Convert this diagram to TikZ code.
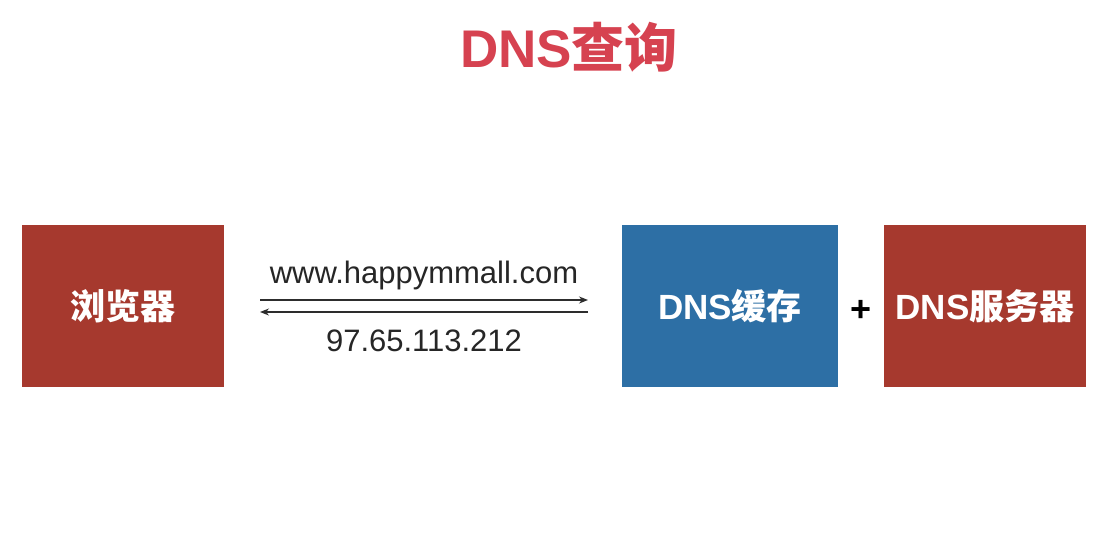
\documentclass[tikz,border=0pt]{standalone}
\usepackage{fontspec}
\setmainfont{Liberation Sans}
\newfontfamily\cjk{Noto Sans CJK SC}
\usetikzlibrary{arrows.meta}
\definecolor{boxred}{RGB}{166,57,46}
\definecolor{boxblue}{RGB}{45,111,165}
\definecolor{titlered}{RGB}{214,66,80}
\definecolor{arrowgray}{RGB}{45,45,45}
\tikzset{
  box/.style={draw=none, minimum height=162pt, inner sep=0pt, text=white, font=\fontsize{35}{40}\selectfont\bfseries},
  link/.style={draw=arrowgray, line width=1.3pt, -{Stealth[length=9pt,width=7pt]}},
  lbl/.style={font=\fontsize{31}{36}\selectfont, text=black!85, inner sep=0pt}
}
\begin{document}
\begin{tikzpicture}[x=1pt,y=1pt]
\useasboundingbox[fill=white] (0,0) rectangle (1110,558);
\node[font=\fontsize{53}{60}\selectfont\bfseries, text=titlered] (title) at (569,511) {DNS{\cjk\bfseries 查询}};
\node[box, fill=boxred, minimum width=202pt] (browser) at (123,252) {{\cjk\bfseries 浏览器}};
\node[box, fill=boxblue, minimum width=216pt] (cache) at (730,252) {DNS{\cjk\bfseries 缓存}};
\node[box, fill=boxred, minimum width=202pt] (server) at (985,252) {DNS{\cjk\bfseries 服务器}};
\node[font=\fontsize{36}{40}\selectfont\bfseries, inner sep=0pt] (plus) at (861,247) {+};
\coordinate (a1) at (260,258);
\coordinate (a2) at (588,258);
\coordinate (b1) at (588,246);
\coordinate (b2) at (260,246);
\draw[link] (a1) -- (a2);
\draw[link] (b1) -- (b2);
\node[lbl] (url) at (424,283) {www.happymmall.com};
\node[lbl] (ip) at (424,217) {97.65.113.212};
\end{tikzpicture}
\end{document}
